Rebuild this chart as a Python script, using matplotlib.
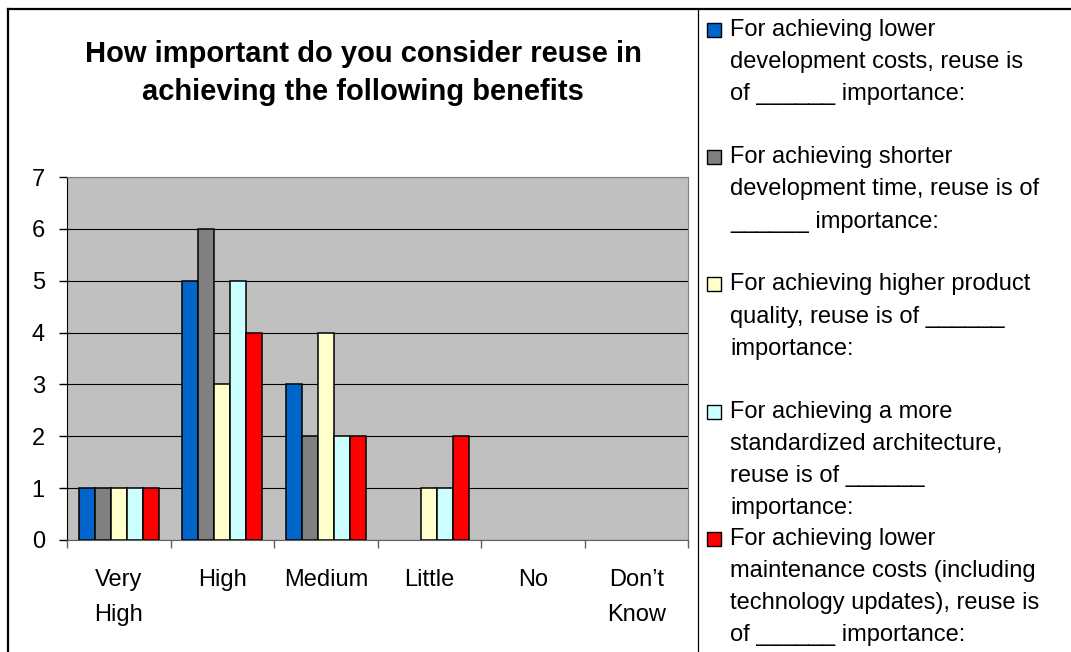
import matplotlib
matplotlib.use("Agg")
import matplotlib.pyplot as plt
from matplotlib.lines import Line2D
from matplotlib.patches import Rectangle
import numpy as np

plt.rcParams['font.family'] = ['Liberation Sans', 'DejaVu Sans']

categories = ["Very\nHigh", "High", "Medium", "Little", "No", "Don\u2019t\nKnow"]
lower_dev_costs = [1, 5, 3, 0, 0, 0]
shorter_dev_time = [1, 6, 2, 0, 0, 0]
higher_quality = [1, 3, 4, 1, 0, 0]
standard_arch = [1, 5, 2, 1, 0, 0]
lower_maint_costs = [1, 4, 2, 2, 0, 0]

series = [lower_dev_costs, shorter_dev_time, higher_quality, standard_arch, lower_maint_costs]
series_labels = [
    "For achieving lower\ndevelopment costs, reuse is\nof ______ importance:",
    "For achieving shorter\ndevelopment time, reuse is of\n______ importance:",
    "For achieving higher product\nquality, reuse is of ______\nimportance:",
    "For achieving a more\nstandardized architecture,\nreuse is of ______\nimportance:",
    "For achieving lower\nmaintenance costs (including\ntechnology updates), reuse is\nof ______ importance:",
]
colors = ["#0066cc", "#808080", "#ffffcc", "#ccffff", "#ff0000"]
title = "How important do you consider reuse in\nachieving the following benefits"

W, H = 1071, 652
fig = plt.figure(figsize=(W / 100, H / 100), dpi=100)
ax = fig.add_axes([67 / W, 1 - 540 / H, (688 - 67) / W, (540 - 177) / H])
ax.set_facecolor("#c0c0c0")

x = np.arange(len(categories))
bw = 0.155
for j, (vals, col) in enumerate(zip(series, colors)):
    # empty bars get no outline, like in the original
    lws = [1.1 if v else 0 for v in vals]
    ax.bar(x + (j - 2) * bw, vals, bw, color=col, edgecolor="black", linewidth=lws, zorder=3)

ax.set_xlim(-0.5, len(categories) - 0.5)
ax.set_ylim(0, 7)
ax.set_yticks(range(8))
ax.yaxis.grid(True, color="black", linewidth=0.8, zorder=1)
ax.set_axisbelow(True)

# boundaries get the tick marks, centres carry the labels
ax.set_xticks(np.arange(-0.5, len(categories), 1.0))
ax.set_xticklabels([])
ax.set_xticks(x, minor=True)
ax.set_xticklabels(categories, minor=True, fontsize=17, linespacing=1.75)
ax.tick_params(axis="x", which="major", length=6, width=1, color="#606060", direction="out")
ax.tick_params(axis="x", which="minor", length=0, pad=21)
ax.tick_params(axis="y", length=6, width=1, color="black", direction="out", pad=10, labelsize=17)

for s in ["top", "right"]:
    ax.spines[s].set_color("#808080")
ax.spines["bottom"].set_color("#606060")
ax.spines["left"].set_color("black")

fig.text(363 / W, 1 - 73 / H, title, ha="center", va="center", fontsize=21,
         fontweight="bold", linespacing=1.5)

# legend drawn by hand: each entry takes four lines of ~31.8 px
for i, (lab, col) in enumerate(zip(series_labels, colors)):
    base = 36 + i * 127.2
    fig.add_artist(Rectangle((707 / W, 1 - (base + 1) / H), 14 / W, 14 / H,
                             facecolor=col, edgecolor="black", linewidth=1,
                             transform=fig.transFigure))
    fig.text(730 / W, 1 - (base - 17) / H, lab, ha="left", va="top",
             fontsize=17, linespacing=1.6)

# frame lines
fig.add_artist(Line2D([8 / W, 8 / W], [0, 1 - 9 / H], color="black", lw=1.6, transform=fig.transFigure))
fig.add_artist(Line2D([8 / W, 1], [1 - 9 / H, 1 - 9 / H], color="black", lw=1.6, transform=fig.transFigure))
fig.add_artist(Line2D([698 / W, 698 / W], [0, 1 - 9 / H], color="black", lw=0.9, transform=fig.transFigure))

fig.savefig("out.png", dpi=100)
